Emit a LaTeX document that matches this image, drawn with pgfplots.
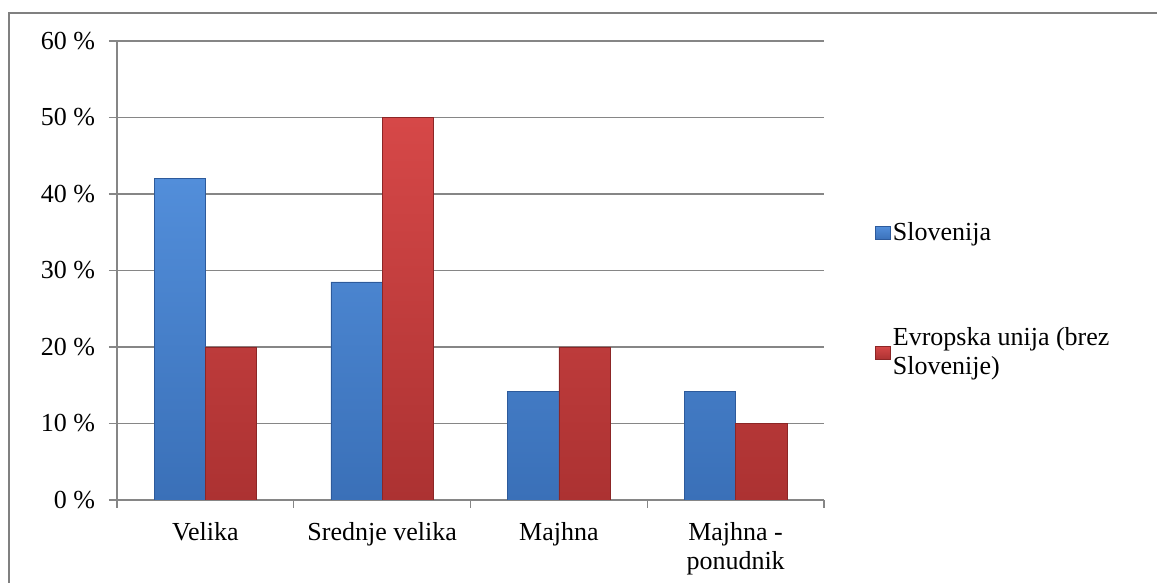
\documentclass[border=0pt]{standalone}
\usepackage{fontspec}
\setmainfont{Liberation Serif}
\newfontfamily\tnr{Liberation Serif}
\usepackage{pgfplots}
\pgfplotsset{compat=1.18}
\definecolor{blueT}{RGB}{82,142,218}
\definecolor{blueB}{RGB}{58,112,184}
\definecolor{blueE}{RGB}{45,90,155}
\definecolor{redT}{RGB}{214,72,72}
\definecolor{redB}{RGB}{172,50,50}
\definecolor{redE}{RGB}{140,38,38}
\definecolor{gridc}{RGB}{134,134,134}
\definecolor{framec}{RGB}{128,128,128}
\begin{document}
\tnr\fontsize{13}{15}\selectfont
\begin{tikzpicture}[font=\tnr]
\path[use as bounding box] (0,0) rectangle (578.5pt,291.5pt);
\draw[framec, line width=1.2pt] (4.5pt,0) -- (4.5pt,285pt) -- (578.5pt,285pt);
\begin{axis}[
  at={(58.5pt,41.5pt)}, anchor=south west,
  scale only axis, width=353.5pt, height=229.5pt,
  ymin=0, ymax=60, xmin=-0.5, xmax=3.5,
  axis x line*=bottom, axis y line*=left,
  axis line style={gridc, line width=0.6pt},
  ybar=0pt, bar width=0.29,
  ytick={0,10,20,30,40,50,60},
  yticklabels={0 \%,10 \%,20 \%,30 \%,40 \%,50 \%,60 \%},
  xtick={0,1,2,3},
  xticklabels={Velika,Srednje velika,Majhna,{Majhna -\\ponudnik}},
  xticklabel style={align=center, font=\tnr\fontsize{13}{14.5}\selectfont, yshift=-2.5pt},
  yticklabel style={font=\tnr\fontsize{13}{15}\selectfont, xshift=-2.5pt},
  minor xtick={-0.5,0.5,1.5,2.5,3.5},
  major x tick style={draw=none},
  tick align=outside,
  major tick length=4pt, minor tick length=4pt,
  tick style={gridc, line width=0.6pt},
  ymajorgrids, grid style={gridc, line width=0.6pt},
  legend style={draw=none, fill=none, at={(1.072,0.61)}, anchor=north west,
    row sep=39.5pt, inner sep=0pt, font=\tnr\fontsize{13}{14.5}\selectfont,
    nodes={inner sep=1pt, align=left}},
  legend cell align=left,
  legend image code/.code={\draw[#1] (0pt,-3.2pt) rectangle (7.5pt,3.4pt);},
]
\addplot[draw=blueE, line width=0.3pt, top color=blueT, bottom color=blueB] coordinates {(0,42) (1,28.5) (2,14.2) (3,14.2)};
\addplot[draw=redE, line width=0.3pt, top color=redT, bottom color=redB] coordinates {(0,20) (1,50) (2,20) (3,10)};
\legend{Slovenija,{Evropska unija (brez\\Slovenije)}}
\end{axis}
\end{tikzpicture}
\end{document}
